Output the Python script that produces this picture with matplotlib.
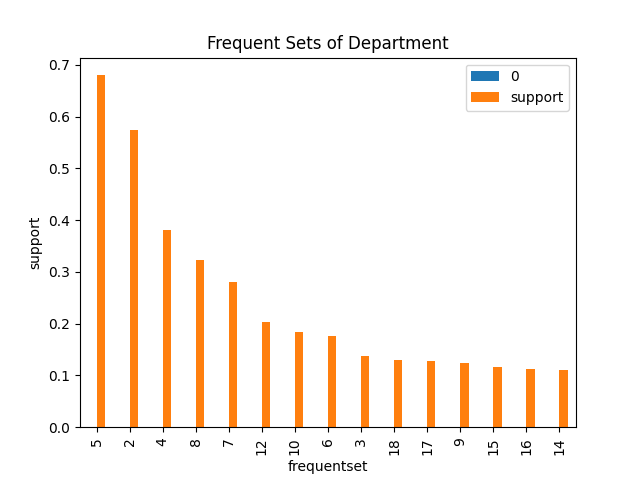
import matplotlib
matplotlib.use("Agg")
import pandas as pd
import matplotlib.pyplot as plt

frequentset = ["5", "2", "4", "8", "7", "12", "10", "6", "3", "18", "17", "9", "15", "16", "14"]
zero_col = [0] * 15
support = [0.680, 0.575, 0.380, 0.323, 0.280, 0.203, 0.184, 0.176, 0.138, 0.130,
           0.128, 0.124, 0.117, 0.113, 0.111]

df = pd.DataFrame({"0": zero_col, "support": support}, index=frequentset)
df.index.name = "frequentset"

fig, ax = plt.subplots(figsize=(6.4, 4.8), dpi=100)
df.plot(kind="bar", ax=ax)
ax.set_title("Frequent Sets of Department")
ax.set_ylabel("support")
fig.savefig("out.png")
